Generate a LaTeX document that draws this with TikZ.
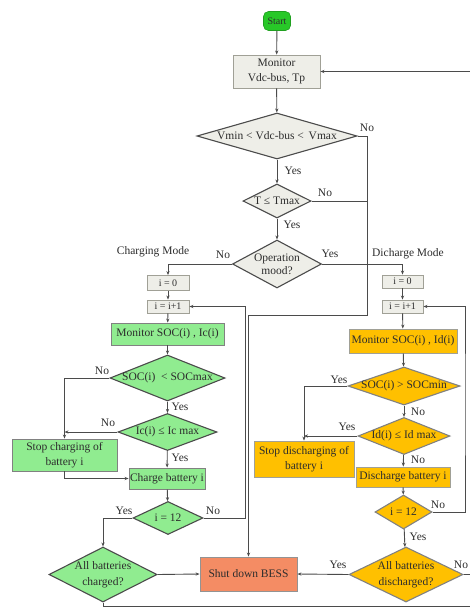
\documentclass[tikz,border=0pt]{standalone}
\usepackage{fontspec}
\setmainfont{Liberation Serif}
\usetikzlibrary{shapes.geometric,arrows.meta}
\definecolor{lgreen}{RGB}{144,236,144}
\definecolor{sgreen}{RGB}{40,200,40}
\definecolor{gold}{RGB}{255,192,0}
\definecolor{salmon}{RGB}{244,140,100}
\definecolor{lgray}{RGB}{238,238,232}
\definecolor{bgray}{RGB}{160,160,150}
\definecolor{lcol}{RGB}{75,75,75}
\definecolor{tcol}{RGB}{45,45,45}
\begin{document}
\begin{tikzpicture}[x=1pt,y=-1pt,
  every node/.style={font=\fontsize{11.5}{15}\selectfont, text=tcol},
  box/.style={rectangle, draw=bgray, line width=0.9pt, inner sep=0pt, align=center},
  gbox/.style={box, fill=lgray},
  grbox/.style={box, fill=lgreen, draw=lcol!70},
  obox/.style={box, fill=gold, draw=bgray},
  dia/.style={diamond, draw=lcol, line width=1.1pt, inner sep=0pt, fill=lgray},
  grdia/.style={dia, fill=lgreen},
  odia/.style={dia, fill=gold, draw=lcol!70},
  txt/.style={inner sep=0pt, align=center},
  lab/.style={inner sep=0pt},
  ln/.style={draw=lcol, line width=0.9pt},
  arr/.style={ln, -{Stealth[length=4pt,width=3.2pt]}}]
\useasboundingbox[fill=white] (0,0) rectangle (470,608);

% ---- top part
\node[rectangle, rounded corners=5pt, fill=sgreen, draw=sgreen!80!black, line width=0.6pt,
      minimum width=27, minimum height=19, inner sep=0pt, font=\fontsize{10}{11}\selectfont] (start) at (277,21) {Start};
\node[gbox, minimum width=87, minimum height=33] (mon) at (276.5,71.5) {Monitor\\Vdc-bus, Tp};
\node[dia, minimum width=160, minimum height=46] (d1) at (277,136) {};
\node[txt] (d1t) at (d1) {Vmin < Vdc-bus <\, Vmax};
\node[dia, minimum width=68, minimum height=34] (d2) at (277,201) {};
\node[txt] (d2t) at (d2) {T ≤ Tmax};
\node[dia, minimum width=89, minimum height=48] (d3) at (277,264) {};
\node[txt, font=\fontsize{11.5}{13}\selectfont] (d3t) at (d3) {Operation\\mood?};

% ---- charging side
\node[gbox, minimum width=42, minimum height=15, font=\fontsize{10}{12}\selectfont] (c0) at (168,283) {i = 0};
\node[gbox, minimum width=42, minimum height=13, font=\fontsize{10}{12}\selectfont] (ci1) at (168,306.5) {i = i+1};
\node[grbox, minimum width=113, minimum height=22] (cmon) at (167.5,334) {Monitor SOC(i) , Ic(i)};
\node[grdia, minimum width=115, minimum height=46] (csoc) at (167.5,378) {};
\node[txt] (csoct) at (csoc) {SOC(i)\ \ < SOCmax};
\node[grdia, minimum width=99, minimum height=37] (cic) at (167.5,432) {};
\node[txt] (cict) at (cic) {Ic(i) ≤ Ic max};
\node[grbox, minimum width=105, minimum height=32] (cstop) at (64.5,455) {Stop charging of\\battery i};
\node[grbox, minimum width=76, minimum height=21] (cch) at (167,478.5) {Charge battery i};
\node[grdia, minimum width=70, minimum height=33] (c12) at (168,518) {};
\node[txt] (c12t) at (c12) {i = 12};
\node[grdia, minimum width=108, minimum height=55] (call) at (103,574.5) {};
\node[txt, font=\fontsize{11.5}{16}\selectfont] (callt) at (call) {All batteries\\charged?};
\node[box, fill=salmon, draw=lcol!60, minimum width=97, minimum height=34] (shut) at (248.5,574) {Shut down BESS};

% ---- discharge side
\node[gbox, minimum width=41, minimum height=13, font=\fontsize{10}{12}\selectfont] (dd0) at (402.5,281.5) {i = 0};
\node[gbox, minimum width=41, minimum height=13, font=\fontsize{10}{12}\selectfont] (di1) at (402.5,306.5) {i = i+1};
\node[obox, minimum width=108, minimum height=24] (dmon) at (403,341) {Monitor SOC(i) , Id(i)};
\node[odia, minimum width=112, minimum height=38] (dsoc) at (404,386) {};
\node[txt] (dsoct) at (dsoc) {SOC(i) > SOCmin};
\node[odia, minimum width=92, minimum height=37] (did) at (404,436) {};
\node[txt] (didt) at (did) {Id(i) ≤ Id max};
\node[obox, minimum width=100, minimum height=36] (dstop) at (304,459) {Stop discharging of\\battery i};
\node[obox, minimum width=94, minimum height=20] (ddis) at (403,477) {Discharge battery i};
\node[odia, minimum width=57, minimum height=34] (d12) at (403.5,512) {};
\node[txt] (d12t) at (d12) {i = 12};
\node[odia, minimum width=114, minimum height=55] (dall) at (406,574.5) {};
\node[txt, font=\fontsize{11.5}{16}\selectfont] (dallt) at (dall) {All batteries\\discharged?};

% ---- junction coordinates
\coordinate (j2) at (367,315);
\coordinate (cl) at (245.5,400);
\coordinate (dl) at (465,400);
\coordinate (bl) at (478,606);

% ---- connectors: top
\draw[arr] (start) -- (mon);
\draw[arr] (mon) -- (d1);
\draw[arr] (d1) -- (d2);
\draw[arr] (d2) -- (d3);
\draw[arr] (d1.east) -| (j2) -| (shut.north);
\draw[ln] (d2.east) -- (d2.east -| j2);
\draw[arr] (d3.west) -| (c0.north);
\draw[arr] (d3.east) -| (dd0.north);

% ---- charging connectors
\draw[arr] (c0) -- (ci1);
\draw[arr] (ci1) -- (cmon);
\draw[arr] (cmon) -- (csoc);
\draw[arr] (csoc) -- (cic);
\draw[arr] (cic) -- (cch);
\draw[arr] (cch) -- (c12);
\draw[arr] (csoc.west) -| (cstop.north);
\draw[arr] (cic.west) -- (cic.west -| cstop.north);
\draw[arr] (cstop.south) |- (cch.west);
\draw[arr] (c12.east) -| (cl) |- (ci1.east);
\draw[arr] (c12.west) -| (call.north);
\draw[arr] (call.east) -- (shut.west);
\draw[arr] (call.south) |- (bl) |- (mon.east);

% ---- discharge connectors
\draw[arr] (dd0) -- (di1);
\draw[arr] (di1) -- (dmon);
\draw[arr] (dmon) -- (dsoc);
\draw[arr] (dsoc) -- (did);
\draw[arr] (did) -- (ddis);
\draw[arr] (ddis) -- (d12);
\draw[arr] (d12) -- (dall);
\draw[arr] (dsoc.west) -| (dstop.north);
\draw[arr] (did.west) -- (did.west -| dstop.north);
\draw[arr] (d12.east) -| (dl) |- (di1.east);
\draw[arr] (dall.west) -- (shut.east);
\draw[ln] (dall.east) -- (dall.east -| bl);

% ---- labels
\node[lab] (l1) at (367,128) {No};
\node[lab] (l2) at (293,171) {Yes};
\node[lab] (l3) at (325,193) {No};
\node[lab] (l4) at (292,225) {Yes};
\node[lab] (l5) at (330,254) {Yes};
\node[lab] (l6) at (408,254) {Dicharge Mode};
\node[lab] (l7) at (223,255) {No};
\node[lab] (l8) at (153,252) {Charging Mode};
\node[lab] (l9) at (102,371) {No};
\node[lab] (l10) at (180,407) {Yes};
\node[lab] (l11) at (108,423) {No};
\node[lab] (l12) at (180,458) {Yes};
\node[lab] (l13) at (124,511) {Yes};
\node[lab] (l14) at (213,511) {No};
\node[lab] (l15) at (339,380) {Yes};
\node[lab] (l16) at (418,412) {No};
\node[lab] (l17) at (347,427) {Yes};
\node[lab] (l18) at (418,460) {No};
\node[lab] (l19) at (438,505) {No};
\node[lab] (l20) at (418,537) {Yes};
\node[lab] (l21) at (338,565) {Yes};
\node[lab] (l22) at (461,565) {No};
\end{tikzpicture}
\end{document}
